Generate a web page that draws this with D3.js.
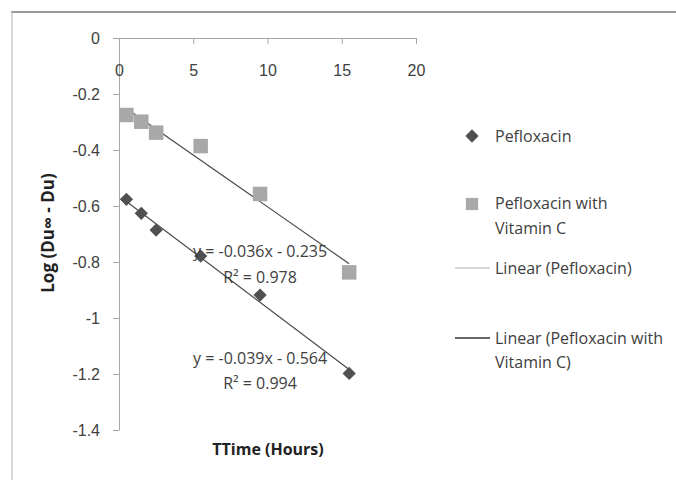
<!DOCTYPE html>
<html>
<head>
<meta charset="utf-8">
<script src="https://cdn.jsdelivr.net/npm/d3@7"></script>
<style>
  body { margin: 0; background: #fff; }
  svg { font-family: "Open Sans", sans-serif; }
</style>
</head>
<body>
<div id="chart"></div>
<script>
// time points (hours)
var timeHours = [0.5, 1.5, 2.5, 5.5, 9.5, 15.5];
// Log (Du∞ - Du)
var pefloxacin = [-0.576, -0.626, -0.686, -0.779, -0.918, -1.198];
var pefloxacinVitC = [-0.275, -0.299, -0.338, -0.386, -0.557, -0.837];

var xTicks = [0, 5, 10, 15, 20];
var yTicks = [0, -0.2, -0.4, -0.6, -0.8, -1, -1.2, -1.4];
var yTickLabels = ["0", "-0.2", "-0.4", "-0.6", "-0.8", "-1", "-1.2", "-1.4"];

var eqLabels = [
    { x: 9.5, y: -0.763, lines: ["y = -0.036x - 0.235", "R\u00b2 = 0.978"] },
    { x: 9.5, y: -1.144, lines: ["y = -0.039x - 0.564", "R\u00b2 = 0.994"] }
];

var W = 676, H = 480;
var svg = d3.select("#chart").append("svg").attr("width", W).attr("height", H);

// frame (top + left edges)
svg.append("line").attr("x1", 11).attr("x2", W).attr("y1", 12).attr("y2", 12)
    .style("stroke", "#9a9a9a").style("stroke-width", 2);
svg.append("line").attr("x1", 12).attr("x2", 12).attr("y1", 11).attr("y2", H)
    .style("stroke", "#b0b0b0").style("stroke-width", 1);

var x = d3.scaleLinear().domain([0, 20]).range([119, 416]);
var y = d3.scaleLinear().domain([0, -1.4]).range([38, 430]);

var axisColor = "#a6a6a6";
var textColor = "#404040";

var xAxis = d3.axisBottom(x).tickValues(xTicks).tickSize(6).tickSizeOuter(0).tickPadding(21);
var yAxis = d3.axisLeft(y).tickValues(yTicks).tickSize(6).tickSizeOuter(0).tickPadding(13)
    .tickFormat((d, i) => yTickLabels[i]);

var gy = svg.append("g").attr("transform", "translate(" + x(0) + ",0)").call(yAxis);
var gx = svg.append("g").attr("transform", "translate(0," + y(0) + ")").call(xAxis);

[gx, gy].forEach(function(g) {
    g.selectAll("path, line").style("stroke", axisColor);
    g.selectAll("text").style("font-size", "16px").style("fill", textColor);
});

// least squares trendlines
function fit(xs, ys) {
    var mx = d3.mean(xs), my = d3.mean(ys);
    var sxy = d3.sum(xs, (v, i) => (v - mx) * (ys[i] - my));
    var sxx = d3.sum(xs, v => (v - mx) * (v - mx));
    var m = sxy / sxx;
    return { m: m, b: my - m * mx };
}

var line = d3.line().x(d => x(d[0])).y(d => y(d[1]));
[pefloxacinVitC, pefloxacin].forEach(function(series) {
    var f = fit(timeHours, series);
    var ends = d3.extent(timeHours).map(t => [t, f.m * t + f.b]);
    svg.append("path").datum(ends).attr("d", line)
        .style("fill", "none").style("stroke", "#4a4a4a").style("stroke-width", 1.2);
});

// markers
var squareSym = d3.symbol().type(d3.symbolSquare).size(210);
var diamondSym = d3.symbol().type(d3.symbolSquare).size(88);

svg.selectAll(".sq").data(timeHours).enter().append("path")
    .attr("class", "sq")
    .attr("d", squareSym)
    .attr("transform", (d, i) => "translate(" + x(d) + "," + y(pefloxacinVitC[i]) + ")")
    .style("fill", "#a8a8a8");

svg.selectAll(".dm").data(timeHours).enter().append("path")
    .attr("class", "dm")
    .attr("d", diamondSym)
    .attr("transform", (d, i) => "translate(" + x(d) + "," + y(pefloxacin[i]) + ") rotate(45)")
    .style("fill", "#505050");

// equation labels
eqLabels.forEach(function(e) {
    e.lines.forEach(function(t, k) {
        svg.append("text").attr("x", x(e.x)).attr("y", y(e.y) + k * 25.5)
            .attr("text-anchor", "middle").attr("dy", "0.35em")
            .style("font-size", "16px").style("fill", textColor)
            .text(t);
    });
});

// axis titles
svg.append("text").attr("x", 268).attr("y", 449).attr("dy", "0.35em")
    .attr("text-anchor", "middle").style("font-size", "16px").style("font-weight", "bold")
    .style("fill", "#222").text("TTime (Hours)");
svg.append("text").attr("transform", "translate(48,233) rotate(-90)").attr("dy", "0.35em")
    .attr("text-anchor", "middle").style("font-size", "17px").style("font-weight", "bold")
    .style("fill", "#222").text("Log (Du\u221e - Du)");

// legend
var legend = svg.append("g");
legend.append("path").attr("d", diamondSym).attr("transform", "translate(472,136) rotate(45)").style("fill", "#505050");
legend.append("path").attr("d", d3.symbol().type(d3.symbolSquare).size(150)).attr("transform", "translate(472,204)").style("fill", "#a8a8a8");
legend.append("line").attr("x1", 455).attr("x2", 490).attr("y1", 268).attr("y2", 268).style("stroke", "#b0b0b0");
legend.append("line").attr("x1", 455).attr("x2", 490).attr("y1", 338).attr("y2", 338).style("stroke", "#333").style("stroke-width", 1.3);

var legendText = [
    ["Pefloxacin", 136],
    ["Pefloxacin with", 203],
    ["Vitamin C", 228],
    ["Linear (Pefloxacin)", 268],
    ["Linear (Pefloxacin with", 338],
    ["Vitamin C)", 362]
];
legendText.forEach(function(l) {
    legend.append("text").attr("x", 495).attr("y", l[1]).attr("dy", "0.35em")
        .style("font-size", "16px").style("fill", textColor).text(l[0]);
});
</script>
</body>
</html>
